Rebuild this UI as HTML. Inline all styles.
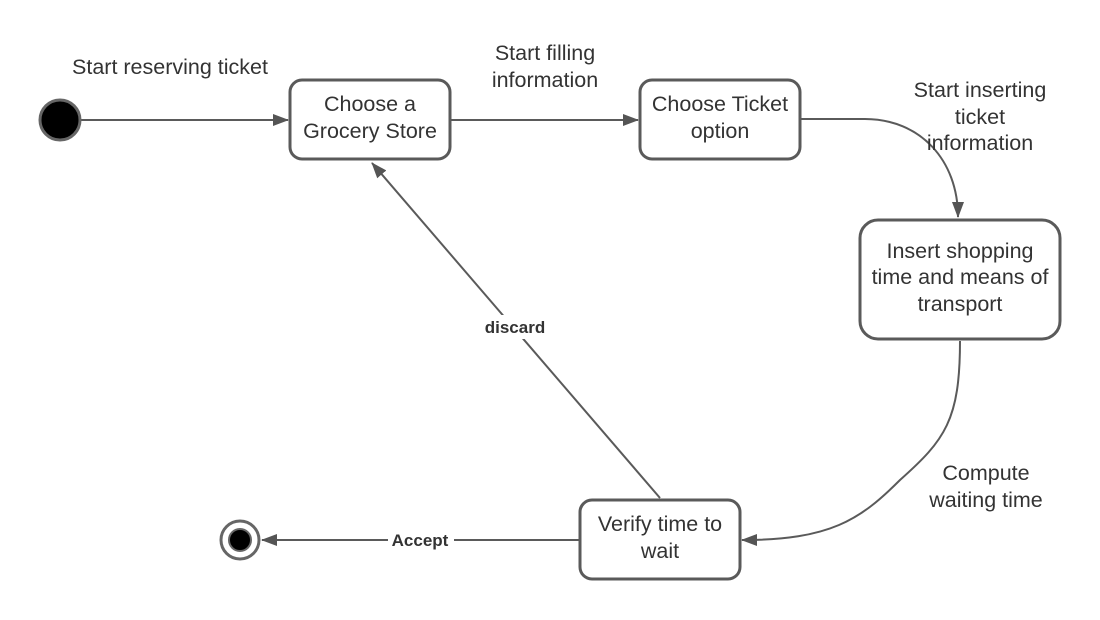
<!DOCTYPE html>
<html><head><style>
html,body{margin:0;padding:0;background:#fff;}
svg{display:block;}
text{font-family:"Liberation Sans",sans-serif;fill:#333;}
</style></head><body>
<svg width="1100" height="620" viewBox="0 0 1100 620" xmlns="http://www.w3.org/2000/svg">
<defs>
<marker id="a" markerWidth="16" markerHeight="12" refX="15" refY="6" orient="auto" markerUnits="userSpaceOnUse">
<path d="M0,0 L16,6 L0,12 Z" fill="#555"/>
</marker>
</defs>
<g stroke="#5a5a5a" stroke-width="2" fill="none">
<line x1="81" y1="120" x2="288" y2="120" marker-end="url(#a)"/>
<line x1="451" y1="120" x2="638" y2="120" marker-end="url(#a)"/>
<path d="M801,119 L865,119 C920,119 958,160 958,217" marker-end="url(#a)"/>
<path d="M960,341 C960,420 945,440 900,480 C860,520 830,540 742,540" marker-end="url(#a)"/>
<line x1="579" y1="540" x2="262" y2="540" marker-end="url(#a)"/>
<line x1="660" y1="498" x2="372" y2="163" marker-end="url(#a)"/>
</g>
<circle cx="60" cy="120" r="20" fill="#000" stroke="#666" stroke-width="3"/>
<circle cx="240" cy="540" r="19" fill="#fff" stroke="#666" stroke-width="3"/>
<circle cx="240" cy="540" r="11" fill="#000" stroke="#666" stroke-width="2"/>
<g fill="#fff" stroke="#5a5a5a" stroke-width="3">
<rect x="290" y="80" width="160" height="79" rx="12"/>
<rect x="640" y="80" width="160" height="79" rx="12"/>
<rect x="860" y="220" width="200" height="119" rx="18"/>
<rect x="580" y="500" width="160" height="79" rx="12"/>
</g>
<g font-size="21.5" text-anchor="middle">
<text x="370" y="111">Choose a</text>
<text x="370" y="138">Grocery Store</text>
<text x="720" y="111">Choose Ticket</text>
<text x="720" y="138">option</text>
<text x="960" y="258">Insert shopping</text>
<text x="960" y="284">time and means of</text>
<text x="960" y="311">transport</text>
<text x="660" y="531">Verify time to</text>
<text x="660" y="558">wait</text>
<text x="170" y="74">Start reserving ticket</text>
<text x="545" y="60">Start filling</text>
<text x="545" y="87">information</text>
<text x="980" y="97">Start inserting</text>
<text x="980" y="124">ticket</text>
<text x="980" y="150">information</text>
<text x="986" y="480">Compute</text>
<text x="986" y="507">waiting time</text>
</g>
<rect x="388" y="529" width="66" height="22" fill="#fff"/>
<rect x="480" y="315" width="70" height="24" fill="#fff"/>
<g font-size="17" font-weight="bold" text-anchor="middle">
<text x="420" y="546">Accept</text>
<text x="515" y="333">discard</text>
</g>
</svg>
</body></html>
